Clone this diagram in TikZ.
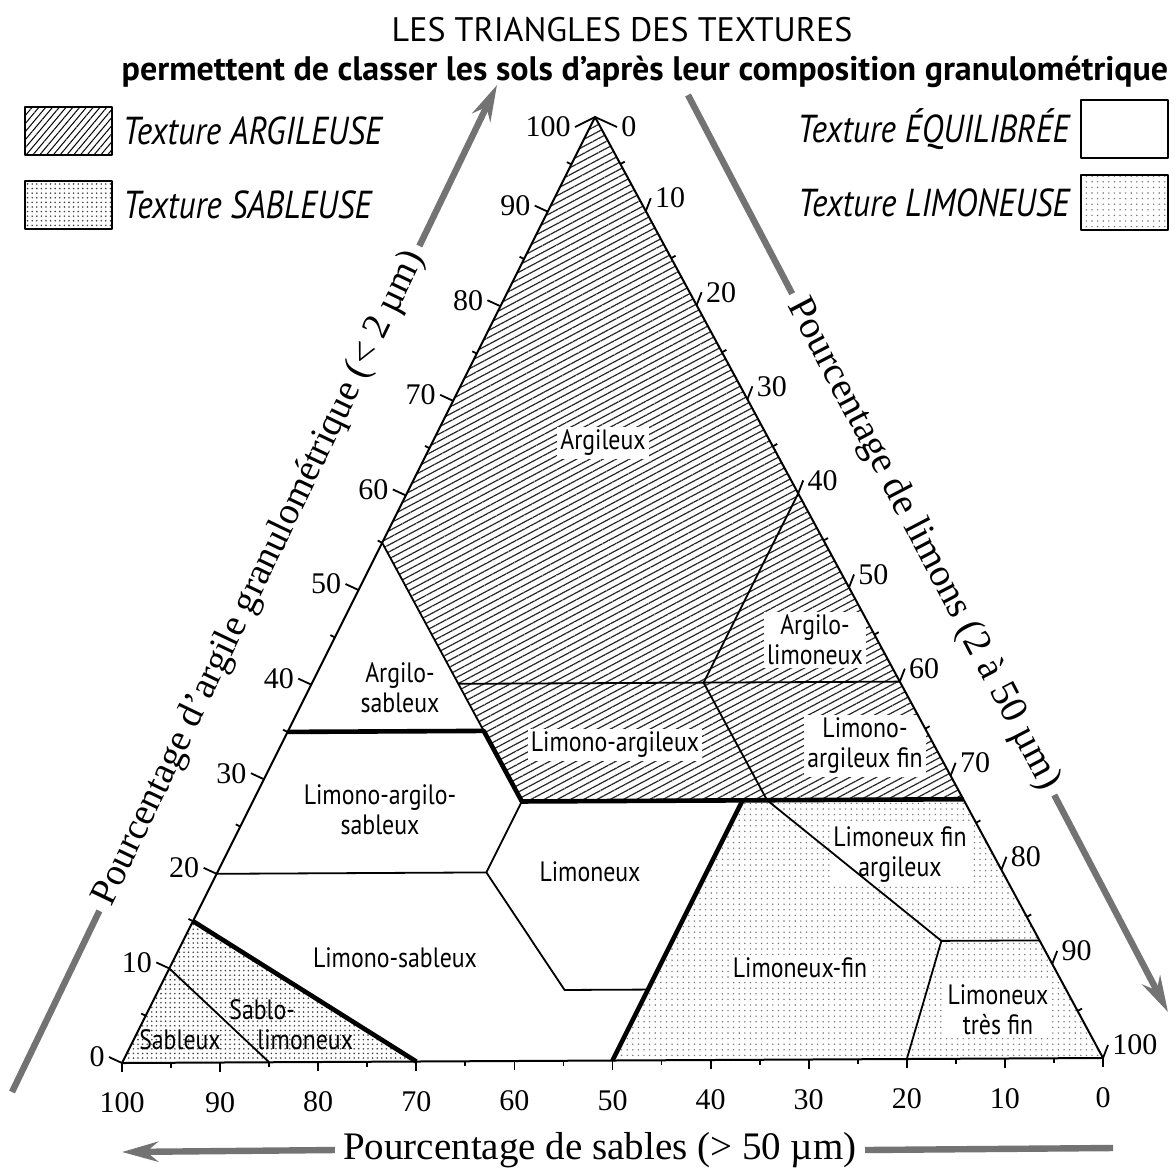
\documentclass[tikz,border=0pt]{standalone}
\usepackage{fontspec}
\setmainfont{Liberation Serif}
\newfontfamily\sansfont{PT Sans}
\newfontfamily\condfont[FakeStretch=0.85]{PT Sans}
\usetikzlibrary{arrows.meta,patterns.meta,calc,positioning}

\begin{document}
\begin{tikzpicture}[x=0.5pt,y=-0.5pt,line join=round,
    limite/.style={line width=0.9pt},
    forte/.style={line width=2.3pt},
    argileuse/.style={pattern={Lines[angle=28,distance=3.1pt,line width=0.6pt]},pattern color=black!85},
    sableuse/.style={pattern={Dots[distance=2.3pt,radius=0.45pt]},pattern color=black!75},
    limoneuse/.style={pattern={Dots[distance=2.8pt,radius=0.4pt]},pattern color=black!55},
    zone/.style={font=\condfont\fontsize{14}{15}\selectfont,align=center,inner sep=1.5pt},
    num/.style={font=\fontsize{15}{15}\selectfont,inner sep=2pt},
    axe/.style={font=\fontsize{19.5}{20}\selectfont,inner sep=4pt},
    barre/.style={line width=3.2pt,draw=black!55},
    pointe/.style={-{Stealth[length=18pt,width=10pt]}},
    legende/.style={font=\condfont\itshape\fontsize{19.5}{20}\selectfont,inner sep=2pt},
    case/.style={draw,line width=1pt,minimum width=43.5pt,minimum height=24pt}]

  \useasboundingbox (0,0) rectangle (1176,1173);

  \node[font=\sansfont\fontsize{17}{18}\selectfont] (titre) at (622,30) {LES TRIANGLES DES TEXTURES};
  \node[font=\sansfont\bfseries\fontsize{17}{18}\selectfont] (soustitre) at (645,72) {permettent de classer les sols d’après leur composition granulométrique};

  \node[case,pattern={Lines[angle=50,distance=2.6pt,line width=0.5pt]}] (carg) at (68.5,131) {};
  \node[legende,right=3pt of carg] (targ) {Texture ARGILEUSE};
  \node[case,sableuse] (csab) at (68.5,205) {};
  \node[legende,right=3pt of csab] (tsab) {Texture SABLEUSE};
  \node[case,minimum height=29pt] (cequ) at (1124.5,129) {};
  \node[legende,left=3pt of cequ] (tequ) {Texture ÉQUILIBRÉE};
  \node[case,limoneuse,minimum height=27.5pt] (clim) at (1124.5,202.5) {};
  \node[legende,left=3pt of clim] (tlim) {Texture LIMONEUSE};

  \coordinate (ar) at (595,117);
  \coordinate (li) at (1103,1058);
  \coordinate (sa) at (122,1063);

  \coordinate (g55) at (barycentric cs:ar=.55,li=0,sa=.45);
  \coordinate (g35) at (barycentric cs:ar=.35,li=0,sa=.65);
  \coordinate (g20) at (barycentric cs:ar=.2,li=0,sa=.8);
  \coordinate (g15) at (barycentric cs:ar=.15,li=0,sa=.85);
  \coordinate (g10) at (barycentric cs:ar=.1,li=0,sa=.9);
  \coordinate (r60) at (barycentric cs:ar=.6,li=.4,sa=0);
  \coordinate (r40) at (barycentric cs:ar=.4,li=.6,sa=0);
  \coordinate (r27) at (barycentric cs:ar=.275,li=.725,sa=0);
  \coordinate (r12) at (barycentric cs:ar=.125,li=.875,sa=0);
  \coordinate (s85) at (barycentric cs:ar=0,li=.15,sa=.85);
  \coordinate (s70) at (barycentric cs:ar=0,li=.3,sa=.7);
  \coordinate (s50) at (barycentric cs:ar=0,li=.5,sa=.5);
  \coordinate (s20) at (barycentric cs:ar=0,li=.8,sa=.2);
  \coordinate (m35) at (barycentric cs:ar=.35,li=.2,sa=.45);
  \coordinate (m40a) at (barycentric cs:ar=.4,li=.15,sa=.45);
  \coordinate (m40b) at (barycentric cs:ar=.4,li=.4,sa=.2);
  \coordinate (j1) at (barycentric cs:ar=.275,li=.275,sa=.45);
  \coordinate (j2) at (barycentric cs:ar=.275,li=.5,sa=.225);
  \coordinate (j3) at (barycentric cs:ar=.275,li=.525,sa=.2);
  \coordinate (k1) at (barycentric cs:ar=.2,li=.275,sa=.525);
  \coordinate (k2) at (barycentric cs:ar=.075,li=.415,sa=.51);
  \coordinate (k3) at (barycentric cs:ar=.075,li=.5,sa=.425);
  \coordinate (f1) at (barycentric cs:ar=.125,li=.775,sa=.1);

  \fill[argileuse] (ar) -- (g55) -- (j1) -- (r27) -- cycle;
  \fill[limoneuse] (j2) -- (r27) -- (li) -- (s50) -- cycle;
  \fill[sableuse] (sa) -- (g15) -- (s70) -- cycle;

  \node[zone,fill=white] (argileux) at (603,443) {Argileux};
  \node[zone] (argsab) at (400,688) {Argilo-\\sableux};
  \node[zone,fill=white] (limarg) at (615,745) {Limono-argileux};
  \node[zone,fill=white] (arglim) at (815,640) {Argilo-\\limoneux};
  \node[zone,fill=white] (limargfin) at (865,746) {Limono-\\argileux fin};
  \node[zone] (limargsab) at (380,810) {Limono-argilo-\\sableux};
  \node[zone] (limoneux) at (590,872) {Limoneux};
  \node[zone] (limsab) at (395,958) {Limono-sableux};
  \node[zone,fill=white] (limfinarg) at (900,855) {Limoneux fin\\argileux};
  \node[zone,fill=white] (limfin) at (800,968) {Limoneux-fin};
  \node[zone,fill=white] (limtresfin) at (998,1010) {Limoneux\\très fin};
  \node[zone,align=left,anchor=west] (sablim) at (226,1025) {Sablo-\\\hspace*{14pt}limoneux};
  \node[zone] (sableux) at (180,1040) {Sableux};

  \draw[limite] (g55) -- (m35);
  \draw[limite] (m40a) -- (r40);
  \draw[limite] (r60) -- (m40b) -- (j3) -- (f1) -- (s20);
  \draw[limite] (f1) -- (r12);
  \draw[limite] (g20) -- (k1) -- (k2) -- (k3);
  \draw[limite] (j1) -- (k1);
  \draw[limite] (g10) -- (s85);
  \draw[forte] (g35) -- (m35) -- (j1) -- (r27);
  \draw[forte] (j2) -- (s50);
  \draw[forte] (g15) -- (s70);
  \draw[line width=1pt] (sa) -- (li) -- (ar) -- cycle;

  \foreach \v in {0,10,...,100}{
    \pgfmathsetmacro\fr{\v/100}
    \pgfmathsetmacro\rest{1-\fr}
    \pgfmathsetmacro\gx{\v==100 ? -20 : -13}
    \pgfmathsetmacro\gy{\v==100 ? 10 : -6}
    \pgfmathsetmacro\dx{\v==0 ? 22 : 5}
    \pgfmathsetmacro\dy{\v==0 ? 10 : -13}
    \coordinate (axg\v) at (barycentric cs:ar=\fr,li=0,sa=\rest);
    \coordinate (axd\v) at (barycentric cs:ar=\rest,li=\fr,sa=0);
    \coordinate (axb\v) at (barycentric cs:ar=0,li=\rest,sa=\fr);
    \node[num,anchor=east] (nag\v) at ($(axg\v)+(\gx,\gy)$) {\v};
    \node[num,anchor=west] (nad\v) at ($(axd\v)+(\dx,\dy)$) {\v};
    \node[num] (nab\v) at ($(axb\v)+(0,40)$) {\v};
    \draw[limite] (axg\v) -- (nag\v.east);
    \draw[limite] (axd\v) -- (nad\v.west);
    \draw[limite] (axb\v) -- ++(0,9);
  }
  \foreach \v in {5,15,...,95}{
    \pgfmathsetmacro\fr{\v/100}
    \pgfmathsetmacro\rest{1-\fr}
    \draw[limite] (barycentric cs:ar=\fr,li=0,sa=\rest) -- ++(-4.5,-2.2);
    \draw[limite] (barycentric cs:ar=\rest,li=\fr,sa=0) -- ++(4.4,-2.4);
    \draw[limite] (barycentric cs:ar=0,li=\rest,sa=\fr) -- ++(0,5);
  }

  \coordinate (fg1) at (12,1092);
  \coordinate (fg4) at (497,85);
  \node[axe,font=\fontsize{19}{20}\selectfont,rotate=64.3] (targile) at ($(fg1)!0.51!(fg4)$) {Pourcentage d’argile granulométrique (< 2 µm)};
  \draw[barre] (fg1) -- (targile.west);
  \draw[barre,pointe] (targile.east) -- (fg4);

  \coordinate (fd1) at (688,95);
  \coordinate (fd4) at (1168,1012);
  \node[axe,rotate=-62.4] (tlimons) at ($(fd1)!0.49!(fd4)$) {Pourcentage de limons (2 à 50 µm)};
  \draw[barre] (fd1) -- (tlimons.west);
  \draw[barre,pointe] (tlimons.east) -- (fd4);

  \coordinate (fb1) at (122,1152);
  \coordinate (fb4) at (1113,1148);
  \node[axe] (tsables) at (600,1150) {Pourcentage de sables (> 50 µm)};
  \draw[barre,pointe] (tsables.west) -- (fb1);
  \draw[barre] (tsables.east) -- (fb4);
\end{tikzpicture}
\end{document}
